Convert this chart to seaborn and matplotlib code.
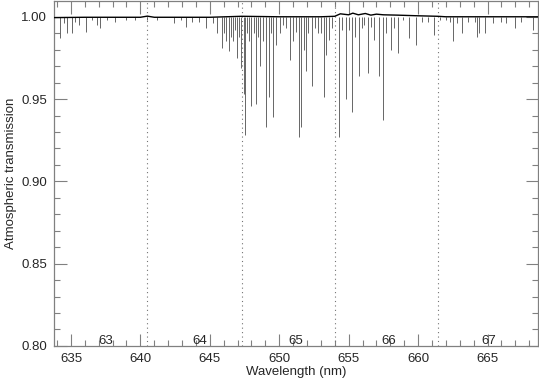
import matplotlib
matplotlib.use("Agg")
import matplotlib.pyplot as plt
import seaborn as sns
import pandas as pd
from matplotlib.ticker import MultipleLocator

# continuum level (wavelength nm, transmission)
cont_wl = [633.8, 636.0, 640.0, 640.5, 641.0, 645.0, 647.3, 650.0, 653.0, 654.0,
           654.4, 655.0, 655.3, 655.7, 656.2, 656.6, 657.0, 657.5, 658.5, 660.0,
           661.4, 662.0, 668.7]
cont_tr = [0.9995, 0.9997, 0.9997, 1.0004, 0.9997, 0.9997, 1.0003, 1.0000, 1.0000, 1.0003,
           1.0018, 1.0012, 1.0022, 1.0012, 1.0020, 1.0010, 1.0016, 1.0012, 1.0010, 1.0006,
           1.0003, 1.0000, 1.0000]

# telluric absorption lines: centre (nm) and minimum transmission
line_wl = [634.24, 634.5, 634.73, 635.04, 635.3, 635.56, 636.12, 636.5, 636.88, 637.12,
           637.6, 638.2, 639.0, 639.6, 640.5, 641.2, 642.4, 642.9, 643.3, 643.7,
           644.2, 644.75, 645.2, 645.5, 645.88, 646.05, 646.17, 646.4, 646.55, 646.67,
           646.8, 646.93, 647.12, 647.27, 647.48, 647.55, 647.7, 647.85, 647.99, 648.15,
           648.3, 648.45, 648.6, 648.8, 649.04, 649.23, 649.4, 649.54, 649.75, 650.07,
           650.3, 650.5, 650.79, 651.0, 651.2, 651.44, 651.6, 651.75, 651.92, 652.1,
           652.35, 652.6, 652.8, 653.0, 653.19, 653.36, 653.55, 653.8, 654.34, 654.55,
           654.8, 655.0, 655.23, 655.45, 655.71, 655.95, 656.1, 656.38, 656.6, 656.8,
           657.15, 657.46, 657.7, 658.04, 658.3, 658.58, 658.9, 659.37, 659.86, 660.3,
           660.7, 661.15, 661.6, 662.0, 662.3, 662.54, 662.8, 663.14, 663.6, 664.1,
           664.27, 664.4, 664.8, 665.4, 666.0, 666.3, 667.0, 667.4, 668.3]
line_min = [0.987, 0.996, 0.990, 0.990, 0.997, 0.995, 0.991, 0.998, 0.995, 0.993,
            0.998, 0.997, 0.998, 0.998, 0.998, 0.998, 0.996, 0.998, 0.994, 0.997,
            0.997, 0.993, 0.996, 0.990, 0.981, 0.990, 0.985, 0.979, 0.988, 0.985,
            0.992, 0.975, 0.988, 0.969, 0.953, 0.928, 0.990, 0.985, 0.946, 0.990,
            0.947, 0.988, 0.970, 0.985, 0.933, 0.951, 0.990, 0.939, 0.983, 0.990,
            0.995, 0.993, 0.974, 0.985, 0.991, 0.927, 0.933, 0.980, 0.967, 0.990,
            0.958, 0.993, 0.990, 0.990, 0.951, 0.977, 0.986, 0.993, 0.927, 0.992,
            0.950, 0.992, 0.942, 0.988, 0.964, 0.993, 0.995, 0.966, 0.994, 0.986,
            0.964, 0.937, 0.990, 0.980, 0.993, 0.978, 0.998, 0.987, 0.983, 0.997,
            0.997, 0.989, 0.998, 0.998, 0.997, 0.985, 0.996, 0.990, 0.997, 0.997,
            0.988, 0.990, 0.990, 0.996, 0.997, 0.996, 0.993, 0.997, 0.992]

# echelle order boundaries and labels
order_edges = [640.48, 647.3, 654.05, 661.45]
order_names = ["63", "64", "65", "66", "67"]
order_pos = [637.5, 644.3, 651.2, 657.9, 665.1]

sns.set_style("ticks")
plt.rcParams["font.family"] = ["Liberation Sans", "DejaVu Sans"]
plt.rcParams["font.size"] = 9.5

fig = plt.figure(figsize=(5.39, 3.82), dpi=100)
ax = fig.add_axes([0.1002, 0.0945, 0.8988, 0.9025])

ax.vlines(line_wl, line_min, 1.0, color="0.4", lw=0.7, zorder=2)
cont = pd.DataFrame({"wl": cont_wl, "tr": cont_tr})
sns.lineplot(data=cont, x="wl", y="tr", ax=ax, color="black", lw=1.0, zorder=3)

for e in order_edges:
    ax.axvline(e, color="0.45", ls=(0, (1, 3)), lw=0.8, zorder=1)
for name, p in zip(order_names, order_pos):
    ax.text(p, 0.7995, name, ha="center", va="bottom", fontsize=9.5)

ax.set_xlim(633.78, 668.67)
ax.set_ylim(0.80, 1.0095)
ax.xaxis.set_major_locator(MultipleLocator(5))
ax.xaxis.set_minor_locator(MultipleLocator(1))
ax.yaxis.set_major_locator(MultipleLocator(0.05))
ax.yaxis.set_minor_locator(MultipleLocator(0.01))
ax.yaxis.set_major_formatter(plt.FormatStrFormatter("%.2f"))
ax.tick_params(which="both", direction="in", top=True, right=True,
               color="0.5", width=0.8, labelsize=9.5)
ax.tick_params(which="major", length=9, pad=5)
ax.tick_params(which="minor", length=4.5)
for s in ax.spines.values():
    s.set_color("0.5")
    s.set_linewidth(0.9)

ax.set_xlabel("Wavelength (nm)", fontsize=9.5, labelpad=1)
ax.set_ylabel("Atmospheric transmission", fontsize=9.5, labelpad=3)

fig.savefig("out.png", dpi=100)
